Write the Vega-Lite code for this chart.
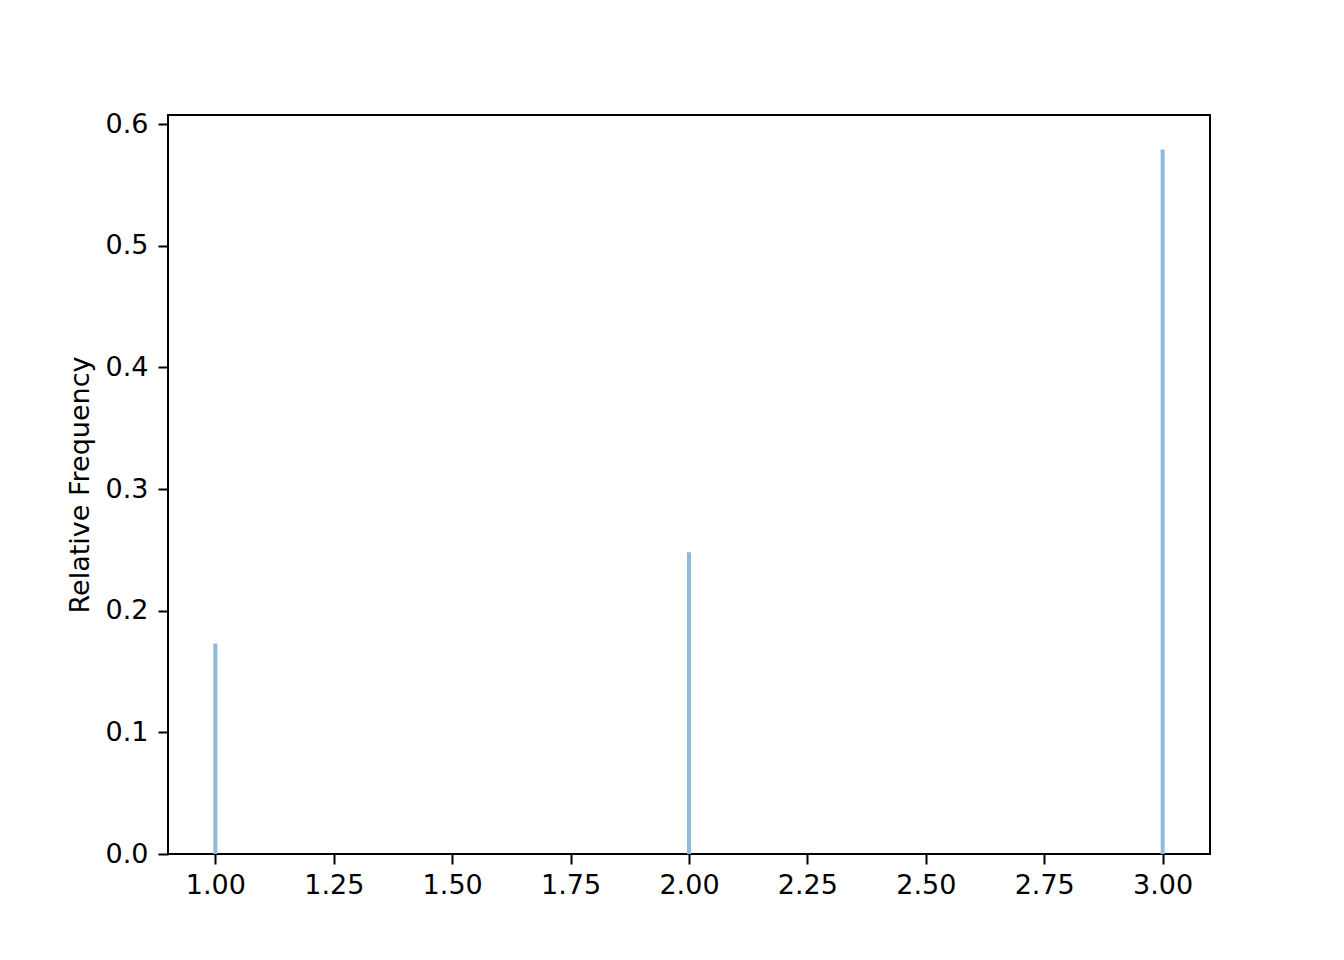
{
  "$schema": "https://vega.github.io/schema/vega-lite/v6.json",
  "width": 1042,
  "height": 739,
  "autosize": "none",
  "padding": {"left": 168, "top": 115, "right": 134, "bottom": 106},
  "background": "white",
  "config": {
    "view": {"stroke": "black", "strokeWidth": 2},
    "axis": {
      "grid": false,
      "domain": false,
      "tickColor": "black",
      "tickWidth": 2,
      "tickSize": 10,
      "labelFont": "DejaVu Sans",
      "labelFontSize": 27,
      "labelColor": "black",
      "titleFont": "DejaVu Sans",
      "titleFontSize": 27,
      "titleFontWeight": "normal",
      "titleColor": "black"
    }
  },
  "data": {
    "values": [
      {"value": 1, "freq": 0.173},
      {"value": 2, "freq": 0.248},
      {"value": 3, "freq": 0.579}
    ]
  },
  "mark": {"type": "bar", "size": 4, "color": "#8fbbd9"},
  "encoding": {
    "x": {
      "field": "value",
      "type": "quantitative",
      "scale": {"domain": [0.9, 3.1], "nice": false, "zero": false, "padding": 0},
      "axis": {
        "title": null,
        "values": [1, 1.25, 1.5, 1.75, 2, 2.25, 2.5, 2.75, 3],
        "format": ".2f",
        "labelPadding": 8,
        "labelFlush": false
      }
    },
    "y": {
      "field": "freq",
      "type": "quantitative",
      "scale": {"domain": [0, 0.6074], "nice": false, "padding": 0},
      "axis": {
        "title": "Relative Frequency",
        "values": [0, 0.1, 0.2, 0.3, 0.4, 0.5, 0.6],
        "format": ".1f",
        "labelPadding": 10,
        "titlePadding": 11,
        "labelFlush": false
      }
    }
  }
}
